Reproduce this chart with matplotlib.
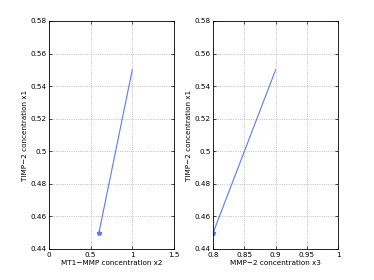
import matplotlib
matplotlib.use("Agg")
import matplotlib.pyplot as plt

x2 = [0.6, 1.0]
x1_left = [0.45, 0.55]
x3 = [0.8, 0.9]
x1_right = [0.45, 0.55]

left_xticks = [0, 0.5, 1, 1.5]
left_xlabels = ["0", "0.5", "1", "1.5"]
right_xticks = [0.8, 0.85, 0.9, 0.95, 1]
right_xlabels = ["0.8", "0.85", "0.9", "0.95", "1"]
yticks = [0.44, 0.46, 0.48, 0.5, 0.52, 0.54, 0.56, 0.58]
ylabels = ["0.44", "0.46", "0.48", "0.5", "0.52", "0.54", "0.56", "0.58"]

fig = plt.figure(figsize=(3.74, 2.8), dpi=100)
fs = 5.2
line_color = "#5a78ff"

def setup(ax, xs, ys, xticks, xlabels, xlim, xlabel):
    ax.plot(xs, ys, color=line_color, lw=0.8)
    ax.plot(xs[0], ys[0], marker="*", color=line_color, ms=3.5, lw=0)
    ax.set_xlim(*xlim)
    ax.set_ylim(0.44, 0.58)
    ax.set_xticks(xticks)
    ax.set_xticklabels(xlabels)
    ax.set_yticks(yticks)
    ax.set_yticklabels(ylabels)
    ax.tick_params(labelsize=fs, direction="in", length=2, width=0.5,
                   top=True, right=True)
    ax.tick_params(axis="x", pad=2.5)
    ax.tick_params(axis="y", pad=1.5)
    ax.grid(True, linestyle=":", color="#aaaaaa", linewidth=0.6)
    for s in ax.spines.values():
        s.set_linewidth(0.6)
    ax.set_xlabel(xlabel, fontsize=fs, labelpad=1)
    ax.set_ylabel("TIMP\u22122 concentration x1", fontsize=fs, labelpad=2)

ax1 = fig.add_axes([0.131, 0.111, 0.334, 0.814])
setup(ax1, x2, x1_left, left_xticks, left_xlabels, (0, 1.5), "MT1\u2212MMP concentration x2")
ax2 = fig.add_axes([0.570, 0.111, 0.334, 0.814])
setup(ax2, x3, x1_right, right_xticks, right_xlabels, (0.8, 1.0), "MMP\u22122 concentration x3")

fig.savefig("out.png", dpi=100)
